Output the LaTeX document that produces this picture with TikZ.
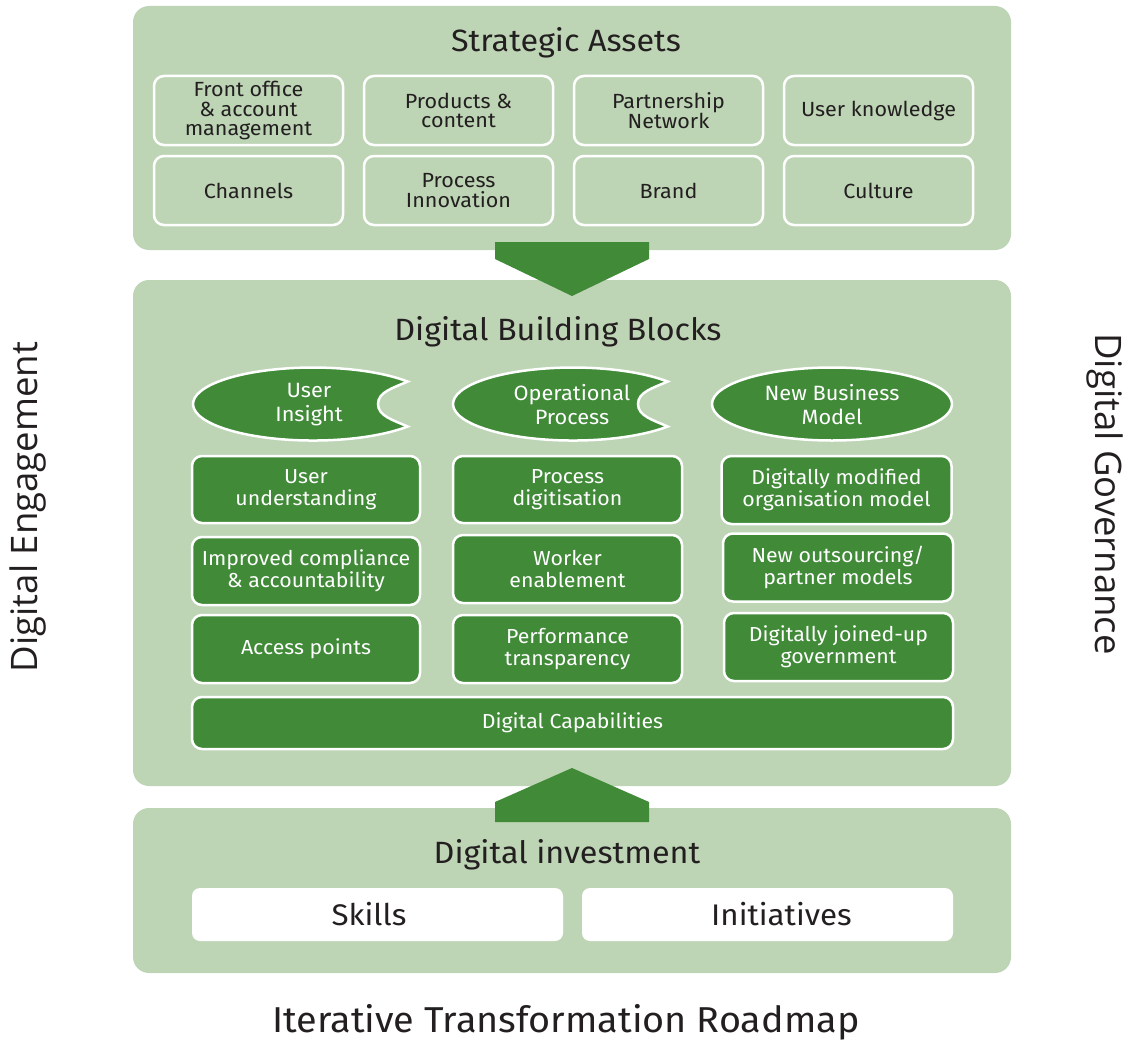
\documentclass[tikz,border=0pt]{standalone}
\usepackage{fontspec}
\setmainfont[FakeStretch=1.05]{Fira Sans}
\newfontfamily\sidefont{Open Sans}
\definecolor{lg}{HTML}{BDD5B5}
\definecolor{dg}{HTML}{408A38}
\definecolor{tx}{HTML}{231F20}
\begin{document}
\begin{tikzpicture}[x=1pt,y=-1pt,
  panel/.style={fill=lg, rounded corners=16pt, inner sep=0pt},
  title/.style={text=tx, font=\fontsize{30.8}{33}\selectfont, inner sep=0pt},
  abox/.style={draw=white, line width=2.5pt, fill=lg, rounded corners=10pt, text=tx, align=center,
    font=\fontsize{20.5}{19.5}\selectfont, minimum width=189pt, minimum height=69pt, inner sep=0pt},
  dbox/.style={draw=white, line width=2.5pt, fill=dg, rounded corners=10pt, text=white, align=center,
    font=\fontsize{20.3}{22}\selectfont, inner sep=0pt},
  wbox/.style={fill=white, rounded corners=8pt, minimum width=371pt, minimum height=53pt, inner sep=0pt},
  wtext/.style={text=tx, font=\fontsize{29.8}{32}\selectfont, inner sep=0pt},
  etext/.style={text=white, align=center, font=\fontsize{20.7}{24}\selectfont, inner sep=0pt},
  eshape/.style={fill=dg, draw=white, line width=2.5pt},
  arrowshape/.style={fill=dg},
  side/.style={text=tx, font=\sidefont\fontsize{36.5}{40}\selectfont, inner sep=0pt}
]
\useasboundingbox (0,0) rectangle (1129,1046);

% panels
\node[panel, minimum width=878pt, minimum height=244pt] (sa) at (572,128) {};
\node[panel, minimum width=878pt, minimum height=506pt] (db) at (572,533) {};
\node[panel, minimum width=878pt, minimum height=165pt] (di) at (572,890.5) {};

% arrows
\path[arrowshape] (495,242) -- (649,242) -- (649,259) -- (572,296) -- (495,259) -- cycle;
\path[arrowshape] (572,768) -- (649,802) -- (649,822) -- (495,822) -- (495,802) -- cycle;

% titles
\node[title] (tsa) at (566,43) {Strategic Assets};
\node[title] (tdb) at (558,332) {Digital Building Blocks};
\node[title] (tdi) at (567,855) {Digital investment};

% strategic assets boxes
\node[abox] (a1) at (248.5,110.5) {Front office\\\& account\\management};
\node[abox] (a2) at (458.5,110.5) {Products \&\\content};
\node[abox] (a3) at (668.5,110.5) {Partnership\\Network};
\node[abox] (a4) at (878.5,110.5) {User knowledge};
\node[abox] (a5) at (248.5,190.5) {Channels};
\node[abox] (a6) at (458.5,190.5) {Process\\Innovation};
\node[abox] (a7) at (668.5,190.5) {Brand};
\node[abox] (a8) at (878.5,190.5) {Culture};

% ellipses with notch
\foreach \cx in {313,573} {
  \path[eshape] (\cx+94.6,404+22.5) arc[start angle=38, end angle=322, x radius=120, y radius=36.5]
    .. controls (\cx+80,404-16) and (\cx+65,404-12) .. (\cx+65,404)
    .. controls (\cx+65,404+12) and (\cx+80,404+16) .. cycle;
}
\path[eshape] (832,404) ellipse[x radius=120, y radius=36.5];
\node[etext] (e1) at (309,405) {User\\Insight};
\node[etext] (e2) at (572,405) {Operational\\Process};
\node[etext] (e3) at (832,405) {New Business\\Model};

% dark boxes
\node[dbox, minimum width=228pt, minimum height=67pt] (b11) at (306,489.5) {User\\understanding};
\node[dbox, minimum width=228pt, minimum height=68pt] (b12) at (306,571) {Improved compliance\\\& accountability};
\node[dbox, minimum width=228pt, minimum height=68pt] (b13) at (306,649) {Access points};
\node[dbox, minimum width=229pt, minimum height=67pt] (b21) at (567.5,489.5) {Process\\digitisation};
\node[dbox, minimum width=229pt, minimum height=68pt] (b22) at (567.5,569) {Worker\\enablement};
\node[dbox, minimum width=229pt, minimum height=68pt] (b23) at (567.5,649) {Performance\\transparency};
\node[dbox, minimum width=230pt, minimum height=68pt] (b31) at (836.5,490) {Digitally modified\\organisation model};
\node[dbox, minimum width=230pt, minimum height=68pt] (b32) at (838,567.5) {New outsourcing/\\partner models};
\node[dbox, minimum width=229pt, minimum height=68pt] (b33) at (838.5,647) {Digitally joined-up\\government};
\node[dbox, minimum width=761pt, minimum height=52pt] (cap) at (572.5,723) {Digital Capabilities};

% investment boxes
\node[wbox] (sk) at (377.5,914.5) {};
\node[wbox] (in) at (767.5,914.5) {};
\node[wtext] (skt) at (369,914.5) {Skills};
\node[wtext] (int) at (781.5,914.5) {Initiatives};

% side labels
\node[side, rotate=90] (se) at (28,507) {Digital Engagement};
\node[side, rotate=-90] (sg) at (1105,494) {Digital Governance};
\node[text=tx, font=\fontsize{36}{40}\selectfont, inner sep=0pt] (rm) at (566,1022) {Iterative Transformation Roadmap};
\end{tikzpicture}
\end{document}
